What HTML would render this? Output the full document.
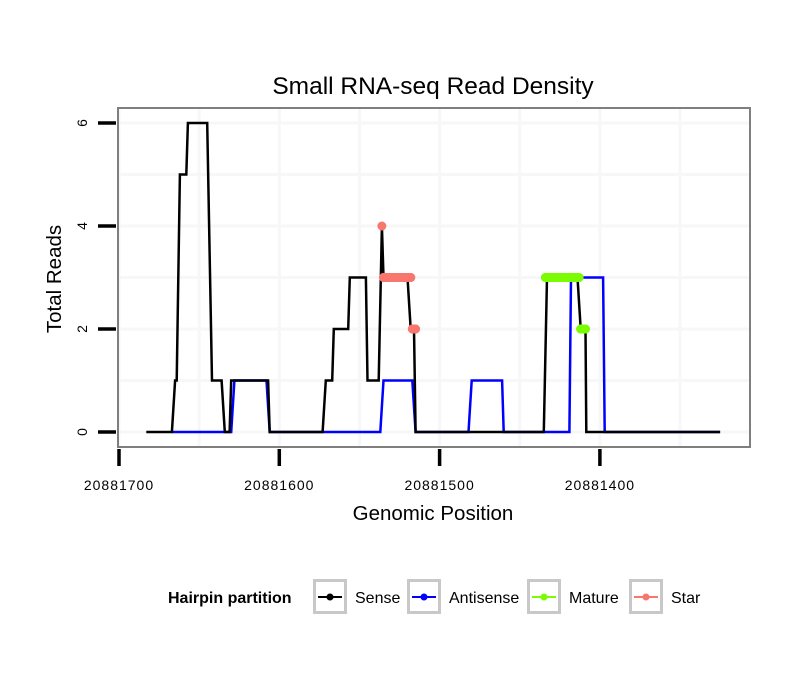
<!DOCTYPE html>
<html><head><meta charset="utf-8"><style>
body{margin:0;background:#fff;font-family:"Liberation Sans",sans-serif}
svg{display:block}
</style></head><body>
<svg id="chart" width="810" height="690" xmlns="http://www.w3.org/2000/svg" font-family="Liberation Sans, sans-serif">
<rect width="810" height="690" fill="#fff"/>
<text x="433" y="94" font-size="24.5" text-anchor="middle">Small RNA-seq Read Density</text>
<g id="grid"></g>
<rect x="118" y="108" width="632" height="339" fill="none" stroke="#7f7f7f" stroke-width="2"/>
<g id="marks"></g>
<g id="axes"></g>
<text transform="translate(61,279) rotate(-90)" font-size="20.5" text-anchor="middle">Total Reads</text>
<text x="433" y="520" font-size="20.5" text-anchor="middle">Genomic Position</text>
<g>
<text x="168" y="603" font-size="16" font-weight="bold">Hairpin partition</text>
<g id="legend"></g>
</g>
</svg>
<script>
const sensePos=[20881683,20881667,20881665,20881664,20881662,20881658,20881657,20881645,20881642,20881636,20881634,20881631,20881630,20881607,20881606,20881573,20881571,20881567,20881566,20881557,20881556,20881546,20881545,20881538,20881536,20881535,20881520,20881518,20881516,20881515,20881435,20881433,20881414,20881412,20881409,20881408.5,20881325];
const senseVal=[0,0,1,1,5,5,6,6,1,1,0,0,1,1,0,0,1,1,2,2,3,3,1,1,4,3,3,2,2,0,0,3,3,2,2,0,0];
const antiPos=[20881667,20881630,20881628,20881608,20881606,20881537,20881535,20881517,20881515,20881482,20881480,20881461,20881460,20881419,20881418,20881398,20881397,20881325];
const antiVal=[0,0,1,1,0,0,1,1,0,0,1,1,0,0,3,3,0,0];
const starPos=[20881536,20881535,20881534,20881530,20881526,20881522,20881518,20881517,20881515];
const starVal=[4,3,3,3,3,3,3,2,2];
const maturePos=[20881434,20881430,20881425,20881420,20881416,20881413,20881412,20881409];
const matureVal=[3,3,3,3,3,3,2,2];
const xTicks=[20881700,20881600,20881500,20881400];
const xTickLabels=["20881700","20881600","20881500","20881400"];
const yTicks=[0,2,4,6];
const xMinor=[20881650,20881550,20881450,20881350];
const yMinor=[1,3,5];

const X=p=>119+(20881700-p)*1.603;
const Y=v=>432-v*51.5;
const NS="http://www.w3.org/2000/svg";
function mk(tag,parent,attrs){const e=document.createElementNS(NS,tag);for(const k in attrs)e.setAttribute(k,attrs[k]);parent.appendChild(e);return e;}
const grid=document.getElementById('grid'),marks=document.getElementById('marks'),axes=document.getElementById('axes'),leg=document.getElementById('legend');

xTicks.concat(xMinor).forEach(p=>{const l=mk('line',grid,{x1:X(p),x2:X(p),y1:108,y2:447,stroke:'#f7f7f7','stroke-width':3});

});
yTicks.concat(yMinor).forEach(v=>{const l=mk('line',grid,{x1:118,x2:750,y1:Y(v),y2:Y(v),stroke:'#f7f7f7','stroke-width':3});

});

function line(pos,val,color,name){const d=pos.map((p,i)=>(i?'L':'M')+X(p).toFixed(1)+','+Y(val[i]).toFixed(1)).join('');
const e=mk('path',marks,{d:d,fill:'none',stroke:color,'stroke-width':2.5,'stroke-linejoin':'miter'});

}
line(antiPos,antiVal,'#0000ff','antisense-line');
line(sensePos,senseVal,'#000000','sense-line');
function dots(pos,val,color,name){
 for(let i=0;i<pos.length-1;i++){if(val[i]===val[i+1]){const s=mk('line',marks,{x1:X(pos[i]),x2:X(pos[i+1]),y1:Y(val[i]),y2:Y(val[i]),stroke:color,'stroke-width':9,'stroke-linecap':'round'});
 
 }}
 pos.forEach((p,i)=>{const c=mk('circle',marks,{cx:X(p),cy:Y(val[i]),r:4.5,fill:color});
 
 });}
dots(starPos,starVal,'#f8766d','star');
dots(maturePos,matureVal,'#7cfc00','mature');

yTicks.forEach(v=>{const t=mk('line',axes,{x1:98,x2:116,y1:Y(v),y2:Y(v),stroke:'#000','stroke-width':3.5});


const tx=mk('text',axes,{transform:`translate(87,${Y(v)}) rotate(-90)`,'font-size':14,'text-anchor':'middle'});tx.textContent=v;

});
xTicks.forEach((p,i)=>{const t=mk('line',axes,{x1:X(p),x2:X(p),y1:449,y2:466,stroke:'#000','stroke-width':3.5});


const tx=mk('text',axes,{x:X(p),y:490,'font-size':14,'letter-spacing':1,'text-anchor':'middle'});tx.textContent=xTickLabels[i];

});

const legItems=[["Sense","#000000",313],["Antisense","#0000ff",407],["Mature","#7cfc00",527],["Star","#f8766d",629]];
legItems.forEach(it=>{const g=mk('g',leg,{});


mk('rect',g,{x:it[2]+1.5,y:580.5,width:31,height:32,fill:'#fff',stroke:'#c8c8c8','stroke-width':3});
mk('line',g,{x1:it[2]+5,x2:it[2]+29,y1:597,y2:597,stroke:it[1],'stroke-width':2});
mk('circle',g,{cx:it[2]+17,cy:597,r:3.5,fill:it[1]});
const t=mk('text',g,{x:it[2]+42,y:603,'font-size':16});t.textContent=it[0];});
</script>
</body></html>
